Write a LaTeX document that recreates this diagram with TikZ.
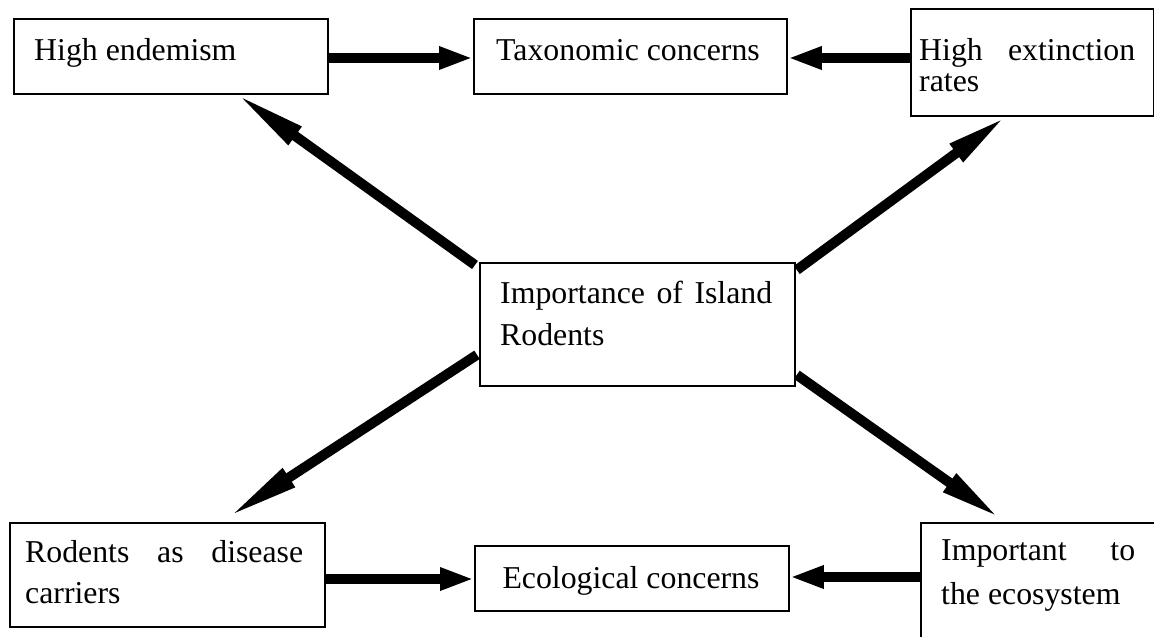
\documentclass[tikz,border=0pt]{standalone}
\usepackage{fontspec}
\setmainfont{Liberation Serif}
\usetikzlibrary{arrows.meta}
\newcommand{\RRtwolines}[4]{\vtop{\baselineskip=#1pt\hbox to #2pt{#3}\hbox{#4}}}
\begin{document}
\begin{tikzpicture}[x=1pt,y=-1pt,
  box/.style={draw=black, line width=1.8pt, inner sep=0pt, anchor=north west},
  txt/.style={inner sep=0pt, font=\fontsize{31.8}{38}\selectfont},
  harrow/.style={line width=10pt, -{Triangle[length=34pt,width=21pt]}},
  darrowL/.style={line width=10pt, -{Triangle[length=74pt,width=20pt]}},
  darrowR/.style={line width=10pt, -{Triangle[length=63pt,width=20pt]}}]
\useasboundingbox (0,0) rectangle (1154,637);
\clip (0,0) rectangle (1154,637);
% boxes
\node[box, minimum width=314pt, minimum height=75pt]  (endem) at (13,18)  {};
\node[box, minimum width=313pt, minimum height=75pt]  (tax)   at (473,18) {};
\node[box, minimum width=243pt, minimum height=107pt] (ext)   at (910,8)  {};
\node[box, minimum width=315pt, minimum height=123pt] (cen)   at (479,262) {};
\node[box, minimum width=315pt, minimum height=104pt] (rod)   at (9,522)  {};
\node[box, minimum width=314pt, minimum height=65pt]  (eco)   at (474,545) {};
\node[box, minimum width=260pt, minimum height=140pt] (imp)   at (920,522) {};
% texts
\node[txt, anchor=base west] (tendem) at (34,60) {High endemism};
\node[txt, anchor=base] (ttax) at (628,60) {Taxonomic concerns};
\node[txt, anchor=base west] (text) at (919,60) {\RRtwolines{31}{216}{High\hfill extinction}{rates}};
\node[txt, anchor=base west] (tcen) at (500,303) {\RRtwolines{42}{272}{Importance\hfill of\hfill Island}{Rodents}};
\node[txt, anchor=base west] (trod) at (25,562) {\RRtwolines{41}{278}{Rodents\hfill as\hfill disease}{carriers}};
\node[txt, anchor=base] (teco) at (631,588) {Ecological concerns};
\node[txt, anchor=base west] (timp) at (941,560) {\RRtwolines{44}{194}{Important\hfill to}{the ecosystem}};
% horizontal arrows
\draw[harrow] (endem.east |- 0,58) -- (tax.west |- 0,58);
\draw[harrow] (ext.west |- 0,58) -- (tax.east |- 0,58);
\draw[harrow] (rod.east |- 0,579) -- (eco.west |- 0,579);
\draw[harrow] (imp.west |- 0,577) -- (eco.east |- 0,577);
% diagonal arrows
\draw[darrowL] ([shift={(-4,3)}]cen.north west) -- ([shift={(222,-2)}]endem.south west);
\draw[darrowR] ([shift={(1,8)}]cen.north east) -- ([shift={(97,-1)}]ext.south west);
\draw[darrowL] ([shift={(-2,-32)}]cen.south west) -- ([shift={(218,-4)}]rod.north west);
\draw[darrowR] ([shift={(1,-12)}]cen.south east) -- ([shift={(81,-3)}]imp.north west);
\end{tikzpicture}
\end{document}
